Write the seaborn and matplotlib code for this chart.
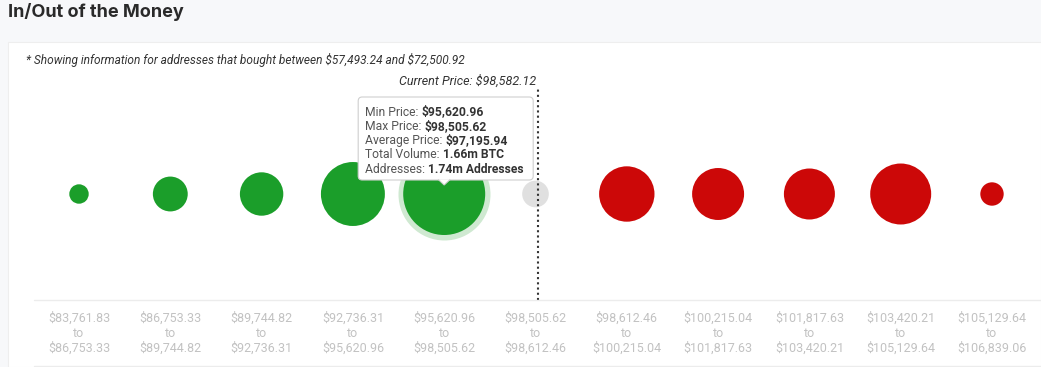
import numpy as np
import pandas as pd
import seaborn as sns
import matplotlib
matplotlib.use("Agg")
import matplotlib.pyplot as plt
from matplotlib.patches import FancyBboxPatch, Polygon, Rectangle
from matplotlib.lines import Line2D

# ---------------- data ----------------
range_low = ["$83,761.83", "$86,753.33", "$89,744.82", "$92,736.31", "$95,620.96",
             "$98,505.62", "$98,612.46", "$100,215.04", "$101,817.63", "$103,420.21",
             "$105,129.64"]
range_high = ["$86,753.33", "$89,744.82", "$92,736.31", "$95,620.96", "$98,505.62",
              "$98,612.46", "$100,215.04", "$101,817.63", "$103,420.21", "$105,129.64",
              "$106,839.06"]
volume_btc_m = [0.093, 0.30, 0.465, 1.01, 1.66, 0.175, 0.757, 0.667, 0.642, 0.918, 0.135]
status = ["in", "in", "in", "in", "in", "at", "out", "out", "out", "out", "out"]

subtitle = "* Showing information for addresses that bought between $57,493.24 and $72,500.92"
current_price_label = "Current Price: $98,582.12"
current_price_pos = 5.03   # position of current price marker on the bucket axis

tooltip_labels = ["Min Price: ", "Max Price: ", "Average Price: ", "Total Volume: ", "Addresses: "]
tooltip_values = ["$95,620.96", "$98,505.62", "$97,195.94", "1.66m BTC", "1.74m Addresses"]
highlight_idx = 4

df = pd.DataFrame({
    "bucket": np.arange(len(volume_btc_m)),
    "row": 0,
    "volume": volume_btc_m,
    "status": status,
})

# ---------------- style ----------------
W, H, DPI = 1041, 367, 100
sns.set_theme(style="white")
plt.rcParams["font.family"] = ["Roboto", "DejaVu Sans"]
plt.rcParams["text.parse_math"] = False

palette = {"in": "#1b9e2a", "at": "#e0e0e0", "out": "#cc0808"}
txt_dark = "#333333"
tick_grey = "#c2c2c2"

fig = plt.figure(figsize=(W / DPI, H / DPI), dpi=DPI)
fig.patch.set_facecolor("#f7f8fa")

# white panel
fig.patches.append(Rectangle((8 / W, 0), 1 - 8 / W, 1 - 42 / H, transform=fig.transFigure,
                             facecolor="white", edgecolor="#eeeeee", linewidth=0.8, zorder=-5))

# axes: px 33.35 .. 1037.6 horizontally, px 88 .. 300 vertically (from top)
ax_left, ax_right = 33.35, 1037.65
ax_top, ax_bottom = 88, 300
ax = fig.add_axes([ax_left / W, 1 - ax_bottom / H, (ax_right - ax_left) / W, (ax_bottom - ax_top) / H])
ax.set_facecolor("none")

vmax = max(volume_btc_m)
vmin = min(volume_btc_m)
smax = (82 * 72 / DPI) ** 2
smin = smax * vmin / vmax

# highlight ring behind hovered bubble
ring = df.iloc[[highlight_idx]]
ax.scatter(ring["bucket"], ring["row"], s=smax * ring["volume"] / vmax * (46 / 41) ** 2,
           color="#cfe9d1", linewidth=0, zorder=1)

sns.scatterplot(data=df, x="bucket", y="row", hue="status", size="volume",
                palette=palette, sizes=(smin, smax), size_norm=(vmin, vmax),
                linewidth=0, legend=False, ax=ax, zorder=2, alpha=1)

ax.set_xlim(-0.5, len(volume_btc_m) - 0.5)
ax.set_ylim(-1, 1)
ax.set_xticks(df["bucket"])
ax.set_xticklabels([f"{a}\nto\n{b}" for a, b in zip(range_low, range_high)],
                   color=tick_grey, fontsize=9, linespacing=1.15)
ax.tick_params(axis="x", length=0, pad=8.5)
ax.set_yticks([])
ax.set_xlabel("")
ax.set_ylabel("")
for s in ax.spines.values():
    s.set_visible(False)

# current price dotted line
ax.axvline(current_price_pos, ymin=0, ymax=1, color="#333333", linewidth=1.5,
           linestyle=(0, (1, 1.5)), zorder=3)

# separator lines
for ypx in (300, 365.5):
    fig.lines.append(Line2D([34 / W, 1], [1 - ypx / H, 1 - ypx / H], transform=fig.transFigure,
                            color="#ececec", linewidth=1))

# title and texts
fig.text(8 / W, 1 - 12 / H, "In/Out of the Money", fontsize=13, fontweight="bold",
         family=["Inter", "DejaVu Sans"], color="#2a2a2a", va="center", ha="left")
fig.text(26 / W, 1 - 60 / H, subtitle, fontsize=8.55, style="italic", color=txt_dark,
         va="center", ha="left")
fig.canvas.draw()
cp_x_disp = ax.transData.transform((current_price_pos, 0))[0]
fig.text((cp_x_disp - 2) / W, 1 - 81 / H, current_price_label, fontsize=9, style="italic",
         color=txt_dark, va="center", ha="right")

# tooltip anchored to hovered bubble
bx, by = ax.transData.transform((df["bucket"][highlight_idx], 0))
tip_x, tip_y = bx, by + 9            # pointer tip (display px, origin bottom-left)
box_left, box_right = bx - 86, bx + 89
box_bottom = tip_y + 5
box_top = box_bottom + 83
disp = matplotlib.transforms.IdentityTransform()
box = FancyBboxPatch((box_left, box_bottom), box_right - box_left, box_top - box_bottom,
                     boxstyle="round,pad=0,rounding_size=4", transform=disp,
                     facecolor="white", edgecolor="#cfcfcf", linewidth=0.8, zorder=10)
fig.patches.append(box)
ptr = Polygon([[tip_x - 6, box_bottom + 0.6], [tip_x, tip_y], [tip_x + 6, box_bottom + 0.6]],
              closed=False, transform=disp, facecolor="white", edgecolor="#cfcfcf",
              linewidth=0.8, zorder=11)
fig.patches.append(ptr)

line_h = 14.3
label_texts = []
value_texts = []
for i, (lab, val) in enumerate(zip(tooltip_labels, tooltip_values)):
    ybase = box_top - 18.5 - i * line_h
    t = fig.text(box_left + 7, ybase, lab, transform=disp, fontsize=8.7, color="#555555",
                 va="baseline", ha="left", zorder=12)
    v = fig.text(box_left + 60, ybase, val, transform=disp, fontsize=8.7, color="#333333",
                 fontweight="bold", va="baseline", ha="left", zorder=12)
    label_texts.append(t)
    value_texts.append(v)
fig.canvas.draw()
for t, v in zip(label_texts, value_texts):
    ext = t.get_window_extent()
    v.set_position((ext.x1, v.get_position()[1]))

fig.savefig("out.png", dpi=DPI, facecolor=fig.get_facecolor())
